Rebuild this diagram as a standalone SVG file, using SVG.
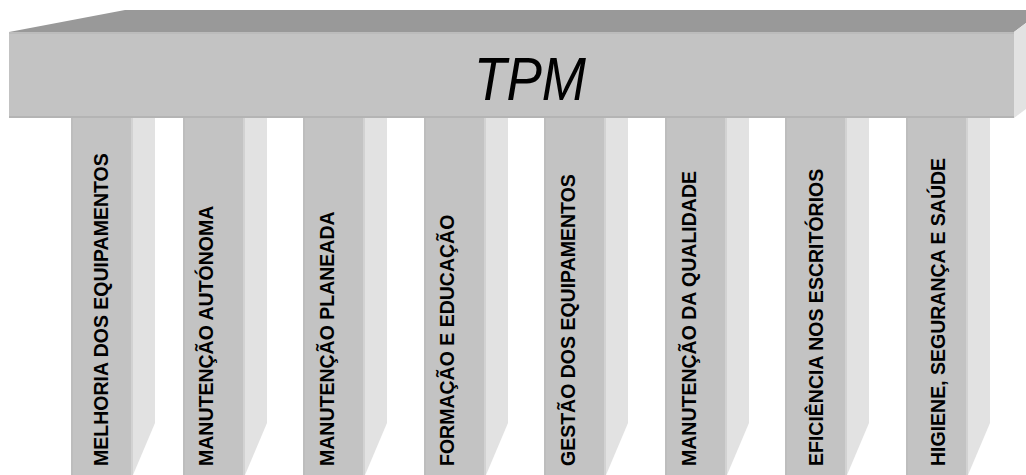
<svg xmlns="http://www.w3.org/2000/svg" width="1026" height="475" viewBox="0 0 1026 475">
<style>
.front{fill:#c3c3c3}
.side{fill:#e2e2e2}
.top{fill:#999999}
.edge{stroke:#d2d2d2;stroke-width:2}
.lbl{font-family:"Liberation Sans",Arial,sans-serif;font-weight:bold;font-size:19.5px;fill:#000}
.title{font-family:"Liberation Sans",Arial,sans-serif;font-style:italic;font-size:62px;fill:#000}
</style>
<defs>
<g id="pillar">
<rect class="front" x="0" y="118" width="60" height="357"/>
<polygon class="side" points="60,118 84,118 84,423 62,475 60,475"/>
<line class="edge" x1="61" y1="118" x2="61" y2="475"/>
<line x1="1" y1="118" x2="1" y2="475" stroke="#bdbdbd" stroke-width="2"/>
</g>
</defs>
<g id="beam">
<polygon class="top" points="9,32 125,10 1026,10 1026,23 1014,32"/>
<polygon class="side" points="1014,32 1026,23 1026,109 1014,118"/>
<rect class="front" x="9" y="32" width="1005" height="86"/>
<line x1="9" y1="117" x2="1014" y2="117" stroke="#b4b4b4" stroke-width="2"/>
<line x1="9" y1="33" x2="1014" y2="33" stroke="#b4b4b4" stroke-width="1"/>
<text class="title" x="474" y="100" textLength="112" lengthAdjust="spacingAndGlyphs">TPM</text>
</g>
<g id="p1"><use href="#pillar" x="71"/><text class="lbl" transform="translate(108,466) rotate(-90)">MELHORIA DOS EQUIPAMENTOS</text></g>
<g id="p2"><use href="#pillar" x="183"/><text class="lbl" transform="translate(213,466) rotate(-90)">MANUTENÇÃO AUTÓNOMA</text></g>
<g id="p3"><use href="#pillar" x="303"/><text class="lbl" transform="translate(334,466) rotate(-90)">MANUTENÇÃO PLANEADA</text></g>
<g id="p4"><use href="#pillar" x="424"/><text class="lbl" transform="translate(454,466) rotate(-90)">FORMAÇÃO E EDUCAÇÃO</text></g>
<g id="p5"><use href="#pillar" x="544"/><text class="lbl" transform="translate(575,466) rotate(-90)">GESTÃO DOS EQUIPAMENTOS</text></g>
<g id="p6"><use href="#pillar" x="665"/><text class="lbl" transform="translate(696,466) rotate(-90)">MANUTENÇÃO DA QUALIDADE</text></g>
<g id="p7"><use href="#pillar" x="785"/><text class="lbl" transform="translate(823,466) rotate(-90)">EFICIÊNCIA NOS ESCRITÓRIOS</text></g>
<g id="p8"><use href="#pillar" x="906"/><text class="lbl" transform="translate(945,466) rotate(-90)">HIGIENE, SEGURANÇA E SAÚDE</text></g>
<g id="connectors"/>
</svg>
